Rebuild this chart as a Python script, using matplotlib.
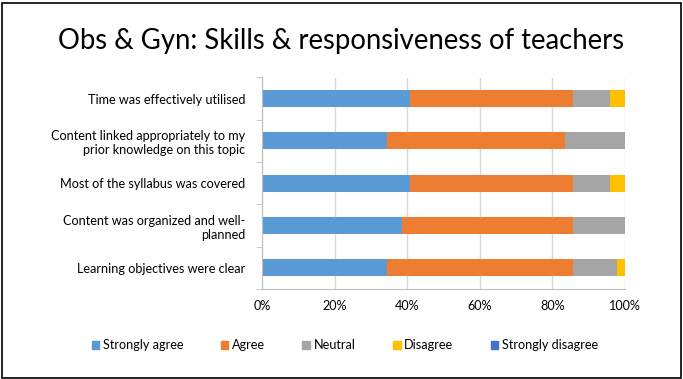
import numpy as np
import matplotlib.pyplot as plt
from matplotlib.patches import Rectangle
from matplotlib.ticker import PercentFormatter

plt.rcParams['font.family'] = ['Lato', 'DejaVu Sans']

categories = ['Time was effectively utilised',
              'Content linked appropriately to my\nprior knowledge on this topic',
              'Most of the syllabus was covered',
              'Content was organized and well-\nplanned',
              'Learning objectives were clear']
series = ['Strongly agree', 'Agree', 'Neutral', 'Disagree', 'Strongly disagree']
strongly_agree = [40.7, 34.4, 40.7, 38.6, 34.4]
agree = [45.0, 49.2, 45.0, 47.1, 51.3]
neutral = [10.3, 16.4, 10.3, 14.3, 12.2]
disagree = [4.0, 0.0, 4.0, 0.0, 2.1]
strongly_disagree = [0, 0, 0, 0, 0]
colors = ['#5B9BD5', '#ED7D31', '#A5A5A5', '#FFC000', '#4472C4']

fig = plt.figure(figsize=(6.83, 3.79), dpi=100)
fig.patches.append(Rectangle((0.003, 0.003), 0.994, 0.99, transform=fig.transFigure,
                             fill=False, edgecolor='black', linewidth=1.2))
fig.text(0.5, 0.893, 'Obs & Gyn: Skills & responsiveness of teachers',
         ha='center', va='center', fontsize=19.8)

ax = fig.add_axes([262 / 683, 1 - 289 / 379, 363 / 683, 211.5 / 379])
y = np.arange(len(categories))
left = np.zeros(len(categories))
for name, vals, c in zip(series, [strongly_agree, agree, neutral, disagree, strongly_disagree], colors):
    vals = np.array(vals)
    ax.barh(y, vals, left=left, height=0.4, color=c, label=name)
    left += vals

ax.set_xlim(0, 100)
ax.set_ylim(len(categories) - 0.5, -0.5)
ax.set_xticks(np.arange(0, 101, 20))
ax.xaxis.set_major_formatter(PercentFormatter(decimals=0))
ax.set_yticks(y)
ax.set_yticklabels(categories, fontsize=9.1)
ax.set_yticks(np.arange(-0.5, len(categories), 1), minor=True)
ax.tick_params(axis='y', which='major', length=0, pad=12)
ax.tick_params(axis='y', which='minor', length=4, color='#bfbfbf')
ax.tick_params(axis='x', length=0, labelsize=9.1, pad=8)
ax.grid(axis='x', color='#d9d9d9', linewidth=1)
ax.set_axisbelow(True)
for s in ['top', 'right']:
    ax.spines[s].set_visible(False)
for s in ['left', 'bottom']:
    ax.spines[s].set_color('#bfbfbf')

handles = [Rectangle((0, 0), 1, 1, color=c) for c in colors]
fig.legend(handles, series, loc='center', bbox_to_anchor=(0.505, 1 - 345 / 379), ncol=5,
           frameon=False, fontsize=9.1, handlelength=0.6, handleheight=0.6,
           handletextpad=0.3, columnspacing=2.95)

fig.savefig('out.png', dpi=100)
